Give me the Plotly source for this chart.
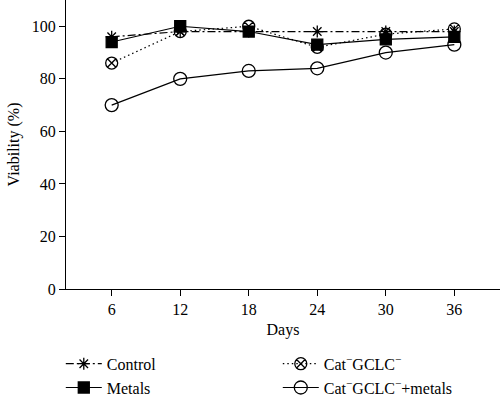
import plotly.graph_objects as go

days = [6, 12, 18, 24, 30, 36]
control = [96, 98, 98, 98, 98, 98]
metals = [94, 100, 98, 93, 95, 96]
cat_gclc = [86, 98, 100, 92, 97, 99]
cat_gclc_metals = [70, 80, 83, 84, 90, 93]

names = ["Control", "Metals", "Cat<sup>−</sup>GCLC<sup>−</sup>", "Cat<sup>−</sup>GCLC<sup>−</sup>+metals"]
FONT = "Liberation Serif"
FS = 16

fig = go.Figure()
specs = [
    (control, names[0], "asterisk-open", "8px,3px,2px,3px", 10, "legend", "g1"),
    (metals, names[1], "square", "solid", 11, "legend", "g2"),
    (cat_gclc, names[2], "circle-x-open", "1.5px,3px", 12, "legend2", "g3"),
    (cat_gclc_metals, names[3], "circle-open", "solid", 13, "legend2", "g4"),
]
for ys, nm, sym, dash, size, leg, grp in specs:
    fig.add_trace(go.Scatter(
        x=days, y=ys, name=nm, mode="lines+markers",
        line=dict(color="black", width=1.2, dash=dash),
        marker=dict(symbol=sym, size=size, color="black",
                    line=dict(color="black", width=1.3)),
        legend=leg, legendgroup=grp,
    ))

axis_common = dict(showgrid=False, zeroline=False, showline=True, linecolor="black",
                   linewidth=1.3, ticks="outside", ticklen=6, tickcolor="black",
                   tickwidth=1.2, automargin=False,
                   tickfont=dict(family=FONT, size=FS, color="black"))

fig.update_layout(
    width=501, height=398,
    margin=dict(l=66, r=1, t=0, b=109, autoexpand=False),
    plot_bgcolor="white", paper_bgcolor="white",
    font=dict(family=FONT, size=FS, color="black"),
    xaxis=dict(range=[2, 40], tickvals=days, **axis_common,
               title=dict(text="Days", font=dict(family=FONT, size=FS), standoff=6)),
    yaxis=dict(range=[0, 110], tickvals=[0, 20, 40, 60, 80, 100], **axis_common,
               title=dict(text="Viability (%)", font=dict(family=FONT, size=FS), standoff=8)),
    legend=dict(x=-0.012, y=-0.200, xanchor="left", yanchor="top", orientation="v",
                tracegroupgap=0, itemwidth=36, bgcolor="rgba(0,0,0,0)",
                font=dict(family=FONT, size=FS)),
    legend2=dict(x=0.488, y=-0.200, xanchor="left", yanchor="top", orientation="v",
                 tracegroupgap=0, itemwidth=36, bgcolor="rgba(0,0,0,0)",
                 font=dict(family=FONT, size=FS)),
)

fig.write_html("out.html", config={"displayModeBar": False},
               post_script="document.body.style.margin='0';document.body.style.overflow='hidden';")
